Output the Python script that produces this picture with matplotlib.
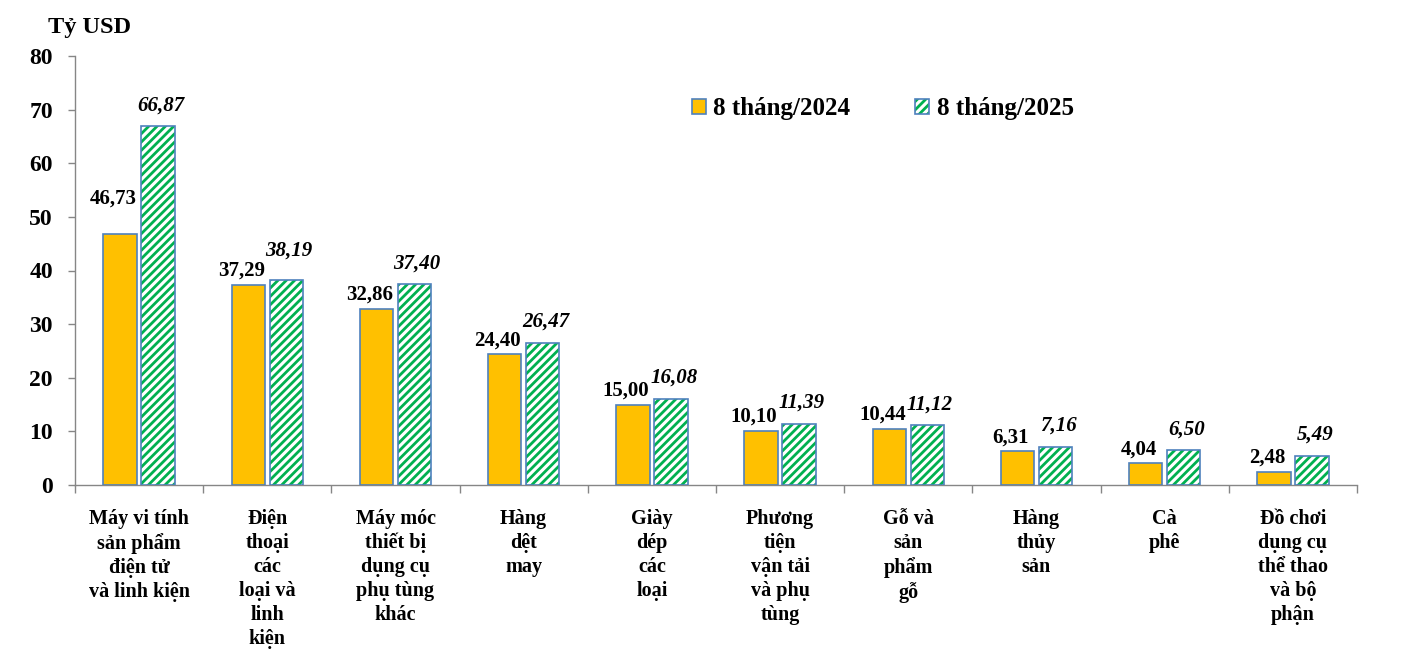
import matplotlib
matplotlib.use('Agg')
import matplotlib.pyplot as plt
from matplotlib.patches import Patch
from matplotlib.legend_handler import HandlerTuple
import numpy as np

plt.rcParams['font.family'] = ['Liberation Serif', 'DejaVu Serif']
plt.rcParams['hatch.linewidth'] = 2.0

# Data
categories = [
    'Máy vi tính\nsản phẩm\nđiện tử\nvà linh kiện',
    'Điện\nthoại\ncác\nloại và\nlinh\nkiện',
    'Máy móc\nthiết bị\ndụng cụ\nphụ tùng\nkhác',
    'Hàng\ndệt\nmay',
    'Giày\ndép\ncác\nloại',
    'Phương\ntiện\nvận tải\nvà phụ\ntùng',
    'Gỗ và\nsản\nphẩm\ngỗ',
    'Hàng\nthủy\nsản',
    'Cà\nphê',
    'Đồ chơi\ndụng cụ\nthể thao\nvà bộ\nphận',
]
values_2024 = [46.73, 37.29, 32.86, 24.40, 15.00, 10.10, 10.44, 6.31, 4.04, 2.48]
values_2025 = [66.87, 38.19, 37.40, 26.47, 16.08, 11.39, 11.12, 7.16, 6.50, 5.49]
series_names = ['8 tháng/2024', '8 tháng/2025']
unit_label = 'Tỷ USD'

orange = '#FFC000'
green = '#00B050'
edge = '#4F81BD'
axis_grey = '#868686'

def fmt(v):
    return f'{v:.2f}'.replace('.', ',')

fig = plt.figure(figsize=(14.08, 6.70), dpi=100)
ax = fig.add_axes([75 / 1408, 1 - 485 / 670, (1357 - 75) / 1408, (485 - 56) / 670])

x = np.arange(len(categories)) + 0.5
w = 0.26
off = 0.148

ax.bar(x - off, values_2024, w, color=orange, edgecolor=edge, linewidth=1.2, zorder=3)
# hatched bars: green hatch on white, then blue outline on top
ax.bar(x + off, values_2025, w, color='white', edgecolor=green, hatch='////', linewidth=0, zorder=3)
ax.bar(x + off, values_2025, w, fill=False, edgecolor=edge, linewidth=1.2, zorder=4)

# data labels
for i in range(len(categories)):
    dy1 = 36 if i == 0 else 14
    ax.annotate(fmt(values_2024[i]), (x[i] - off, values_2024[i]),
                xytext=(-5, dy1 * 0.72), textcoords='offset points',
                ha='center', va='center', fontsize=15, fontweight='bold')
    dy2 = 30 if i == 1 else 21
    ax.annotate(fmt(values_2025[i]), (x[i] + off, values_2025[i]),
                xytext=(2, dy2 * 0.72), textcoords='offset points',
                ha='center', va='center', fontsize=15, fontweight='bold', style='italic')

ax.set_xlim(0, len(categories))
ax.set_ylim(0, 80)
ax.set_yticks(np.arange(0, 81, 10))
ax.set_yticklabels([str(v) for v in range(0, 81, 10)], fontsize=17, fontweight='bold')
ax.tick_params(axis='y', direction='out', length=5, width=1, color=axis_grey, pad=11)

ax.set_xticks(np.arange(0, len(categories) + 1), minor=True)
ax.set_xticks(x)
ax.set_xticklabels(categories, fontsize=14.5, fontweight='bold', linespacing=1.27)
ax.tick_params(axis='x', which='major', length=0, pad=17)
ax.tick_params(axis='x', which='minor', direction='out', length=6, width=1, color=axis_grey)

for s in ['top', 'right']:
    ax.spines[s].set_visible(False)
for s in ['left', 'bottom']:
    ax.spines[s].set_color(axis_grey)
    ax.spines[s].set_linewidth(1)

fig.text(48 / 1408, 1 - 27 / 670, unit_label, fontsize=17.5, fontweight='bold', ha='left', va='center')

h1 = Patch(facecolor=orange, edgecolor=edge, linewidth=1.2)
h2a = Patch(facecolor='white', edgecolor=green, hatch='////', linewidth=0)
h2b = Patch(fill=False, edgecolor=edge, linewidth=1.2)
fig.legend([h1, (h2a, h2b)], series_names, handler_map={tuple: HandlerTuple(ndivide=1, pad=0)},
           loc='center left', bbox_to_anchor=(692 / 1408, 1 - 109 / 670), ncol=2, frameon=False,
           prop={'size': 18, 'weight': 'bold'}, handlelength=0.55, handleheight=0.55,
           handletextpad=0.3, columnspacing=2.6, borderpad=0, borderaxespad=0)

fig.savefig('out.png', dpi=100)
